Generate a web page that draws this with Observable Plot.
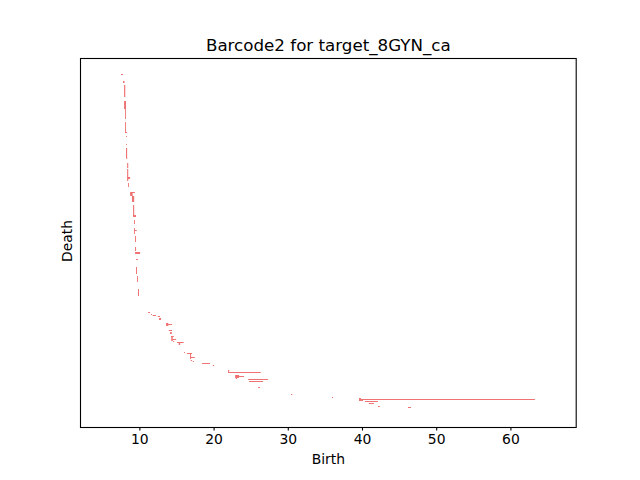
<!DOCTYPE html>
<html>
<head>
<meta charset="utf-8">
<script src="https://cdn.jsdelivr.net/npm/d3@7"></script>
<script src="https://cdn.jsdelivr.net/npm/@observablehq/plot@0.6"></script>
<style>
  body { margin: 0; background: #fff; }
  svg { background: #fff; font-family: "DejaVu Sans", sans-serif; }
</style>
</head>
<body>
<div id="chart"></div>
<script>
// Barcode intervals: birth, death, and the bar's rank range (rank start, rank end)
const birth = [7.53, 7.80, 7.94, 7.94, 8.08, 8.08, 8.08, 8.20, 8.20, 8.20, 8.25, 8.35, 8.35, 8.40, 8.48,
  8.75, 8.75, 9.00, 9.15, 9.15, 9.28, 9.28, 9.28, 9.42, 9.42, 9.42, 9.55, 9.55, 9.68, 9.82,
  11.17, 11.57, 11.80, 12.48, 12.65, 13.60, 13.60, 13.96, 14.14, 14.27, 14.30, 14.37, 14.55, 15.08, 15.30,
  16.02, 16.40, 16.83, 16.83, 16.93, 17.20, 18.45, 19.90, 21.95, 21.95, 22.90, 23.13, 23.00, 24.65, 24.78,
  26.00, 30.44, 35.96, 39.60, 39.86, 39.86, 40.40, 40.93, 42.15, 46.20];
const death = [7.80, 8.00, 8.10, 8.20, 8.20, 8.20, 8.35, 8.32, 8.32, 8.35, 8.38, 8.50, 8.50, 8.75, 8.60,
  9.40, 9.10, 9.30, 9.30, 9.55, 9.40, 9.40, 9.65, 9.55, 9.55, 10.10, 9.80, 9.68, 9.80, 9.95,
  11.44, 11.70, 12.25, 12.79, 12.92, 13.90, 14.40, 14.40, 14.37, 14.64, 14.50, 14.95, 14.70, 15.98, 15.50,
  16.15, 17.10, 16.97, 17.47, 17.10, 17.35, 19.53, 20.07, 26.36, 22.10, 23.44, 24.11, 23.15, 27.35, 26.67,
  26.27, 30.60, 36.10, 39.86, 63.30, 40.13, 42.15, 41.60, 42.40, 46.60];
const rankStart = [1, 8, 12, 28, 35, 49, 59, 63, 71, 75, 85, 90, 96, 104, 110,
  119, 120, 123, 132, 142, 147, 155, 157, 163, 174, 179, 186, 194, 203, 216,
  239, 241, 242, 243, 245, 250, 251, 257, 259, 263, 263, 266, 268, 269, 270,
  279, 280, 281, 284, 287, 288, 290, 292, 299, 297, 302, 303, 304, 306, 308,
  314, 321, 324, 325, 326, 327, 328, 330, 333, 334];
const rankEnd = [2, 10, 24, 36, 46, 60, 60, 64, 72, 85, 86, 95, 108, 106, 114,
  120, 123, 129, 143, 144, 151, 161, 158, 169, 178, 181, 187, 201, 209, 223,
  240, 242, 243, 244, 247, 253, 252, 258, 261, 264, 268, 267, 269, 270, 272,
  280, 281, 286, 285, 288, 289, 291, 293, 300, 300, 305, 304, 306, 307, 309,
  315, 322, 325, 328, 327, 328, 329, 331, 334, 335];

const xTicks = [10, 20, 30, 40, 50, 60];
const titleText = "Barcode2 for target_8GYN_ca";
const xLabel = "Birth";
const yLabel = "Death";

const bars = birth.map((b, i) => ({b, d: death[i], r0: rankStart[i], r1: rankEnd[i]}));

const font = "DejaVu Sans, sans-serif";
const chart = Plot.plot({
  width: 640,
  height: 480,
  marginTop: 58,
  marginBottom: 53,
  marginLeft: 80,
  marginRight: 64.3,
  style: {fontFamily: font, background: "#fff"},
  x: {domain: [2.0, 68.8], axis: null},
  y: {domain: [-15, 354], reverse: true, axis: null},
  marks: [
    Plot.rect(bars, {x1: "b", x2: "d", y1: "r0", y2: "r1", fill: "#ef7373"}),
    Plot.frame({stroke: "black", strokeWidth: 1.1}),
    Plot.axisX({ticks: xTicks, tickSize: 3.5, tickPadding: 3, fontSize: 13.9, label: null, tickFormat: d3.format("d"), stroke: "black", strokeWidth: 1.1}),
    Plot.text([titleText], {frameAnchor: "top", dy: -8, lineAnchor: "bottom", text: d => d, fontSize: 16.7, fill: "black"}),
    Plot.text([xLabel], {frameAnchor: "bottom", dy: 27, lineAnchor: "top", text: d => d, fontSize: 13.9, fill: "black"}),
    Plot.text([yLabel], {frameAnchor: "left", dx: -9, dy: 19, rotate: -90, lineAnchor: "bottom", text: d => d, fontSize: 13.9, fill: "black"})
  ]
});
document.getElementById("chart").appendChild(chart);
</script>
</body>
</html>
